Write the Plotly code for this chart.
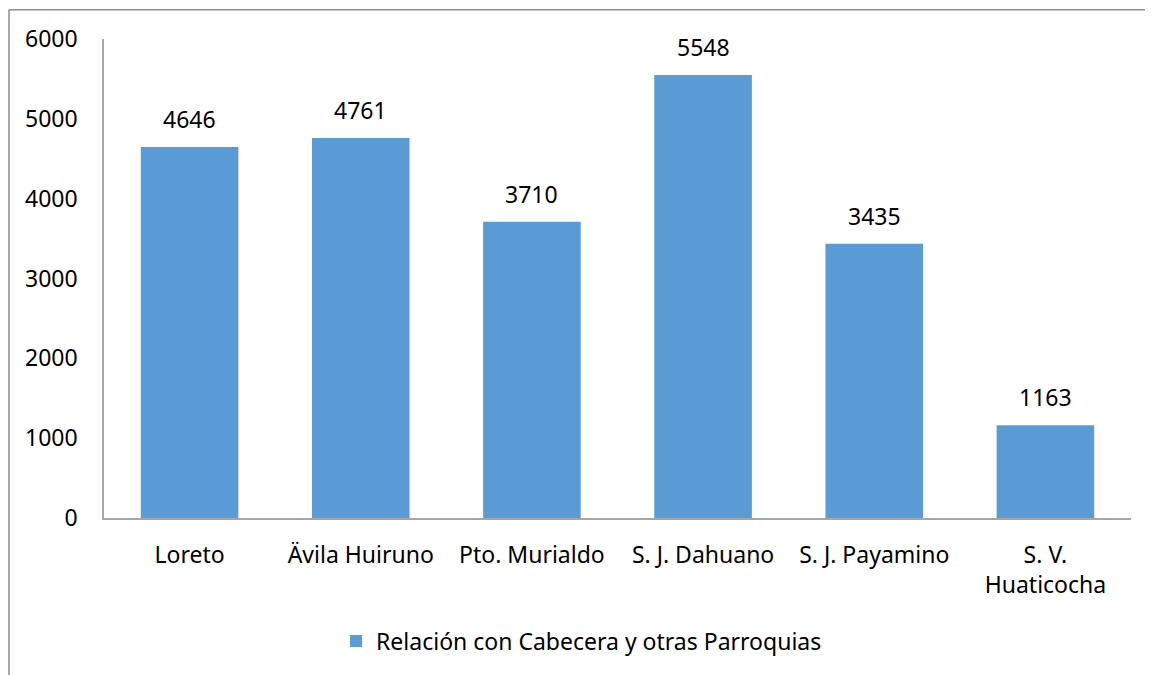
import plotly.graph_objects as go

categories = ["Loreto", "Ävila Huiruno", "Pto. Murialdo", "S. J. Dahuano",
              "S. J. Payamino", "S. V.<br>Huaticocha"]
values = [4646, 4761, 3710, 5548, 3435, 1163]
series_name = "Relación con Cabecera y otras Parroquias"
y_ticks = [0, 1000, 2000, 3000, 4000, 5000, 6000]

font = dict(family="Noto Sans, Open Sans, sans-serif", size=23, color="#000000")
axis_col = "#a6a6a6"

fig = go.Figure()
fig.add_trace(go.Bar(x=categories, y=values, name=series_name,
                     marker=dict(color="#5b9bd5", line=dict(width=0)),
                     showlegend=True))

# data labels above each bar
for c, v in zip(categories, values):
    fig.add_annotation(x=c, y=v, text=str(v), showarrow=False,
                       yanchor="bottom", yshift=10, font=font)

# chart border (only left and top visible in the crop)
fig.add_shape(type="line", xref="paper", yref="paper",
              x0=-0.0925, x1=-0.0925, y0=1.061, y1=-0.5,
              line=dict(color="#8c8c8c", width=1.5))
fig.add_shape(type="line", xref="paper", yref="paper",
              x0=-0.0925, x1=1.1, y0=1.061, y1=1.061,
              line=dict(color="#8c8c8c", width=1.5))

fig.update_layout(
    width=1153, height=675,
    margin=dict(l=96, r=30, t=31, b=165),
    paper_bgcolor="white", plot_bgcolor="white",
    font=font,
    bargap=0.43,
    showlegend=True,
    legend=dict(orientation="h", x=0.465, xanchor="center", y=-0.257,
                yanchor="middle", font=font, itemsizing="constant",
                itemwidth=30),
    xaxis=dict(showline=True, linecolor=axis_col, linewidth=1.5,
               ticks="", showgrid=False, ticklabelstandoff=16,
               tickfont=font),
    yaxis=dict(range=[0, 6000], tickvals=y_ticks, showline=True,
               linecolor=axis_col, linewidth=1.5, ticks="", showgrid=False,
               zeroline=False, ticklabelstandoff=20, tickfont=font),
)

fig.write_html("out.html")
